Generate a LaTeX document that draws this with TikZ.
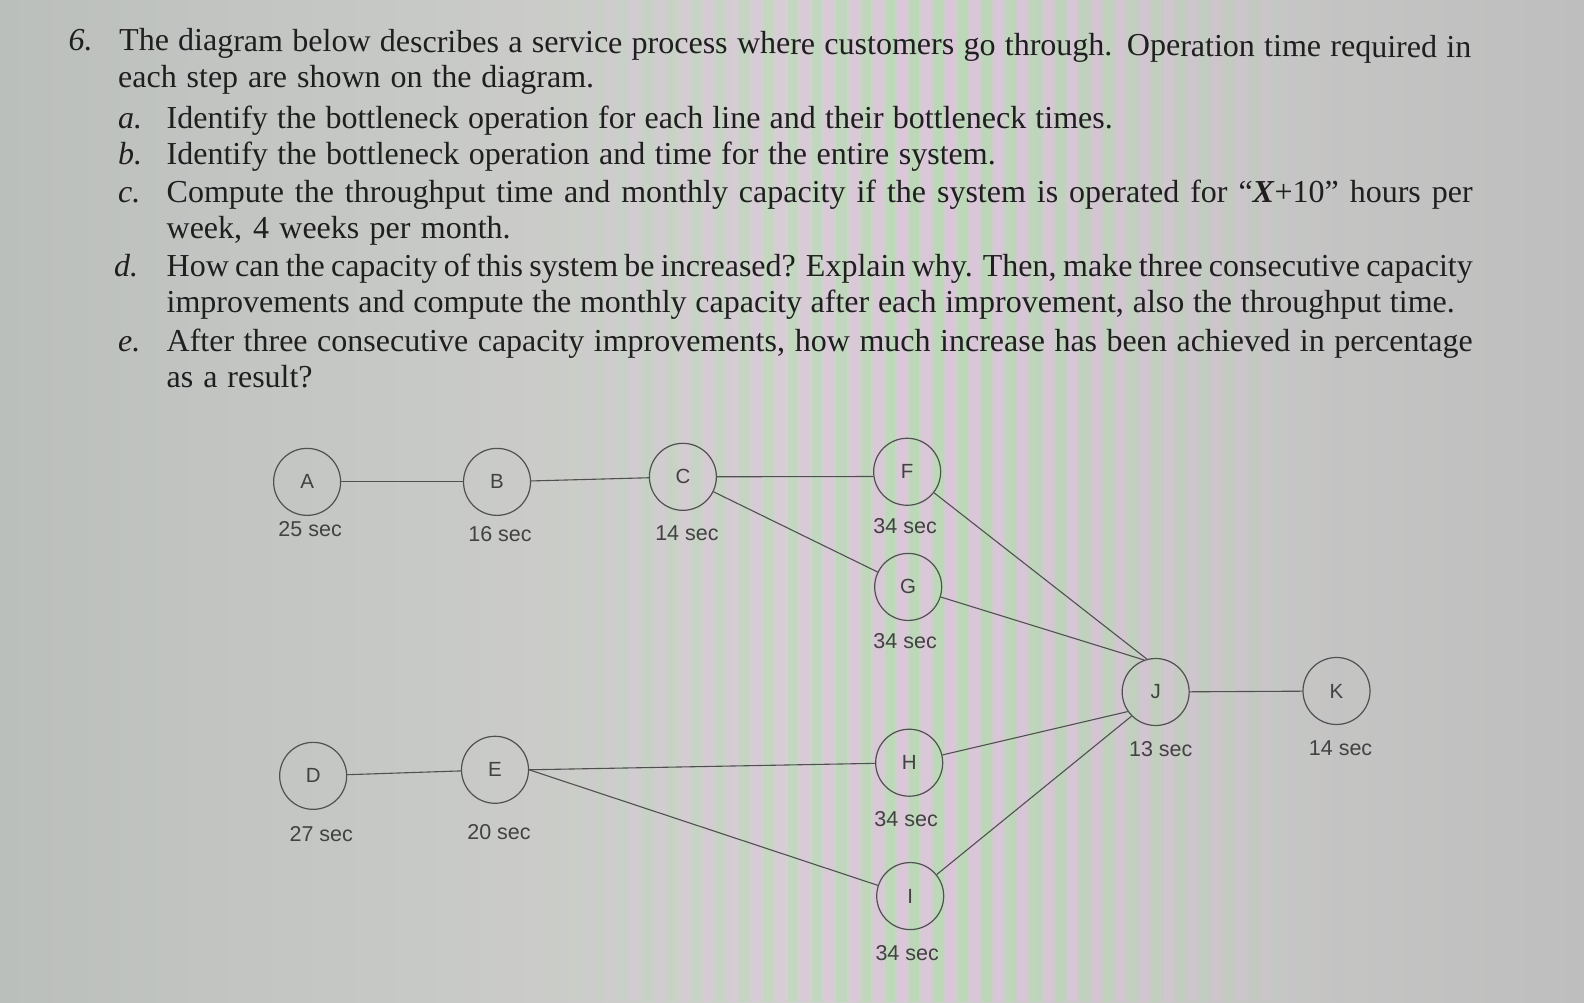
\documentclass[tikz,border=0pt]{standalone}
\usepackage{fontspec}
\setmainfont{Liberation Serif}
\newfontfamily\labfont{Liberation Sans}
\definecolor{txtgray}{HTML}{1F1F1F}
\definecolor{labgray}{HTML}{424242}
\definecolor{linegray}{HTML}{505050}
\definecolor{bgL}{HTML}{BBBFBC}
\definecolor{bgM}{HTML}{D2D2D0}
\definecolor{bgR}{HTML}{BEBEBE}
\definecolor{stripeG}{HTML}{B0E0AA}
\definecolor{stripeP}{HTML}{E4C2E2}
\begin{document}
\begin{tikzpicture}[x=1.0102pt,y=-1.0102pt,
  txt/.style={anchor=base west, inner sep=0pt, outer sep=0pt, text=txtgray, font=\fontsize{32}{36}\selectfont},
  circ/.style={circle, draw=linegray, line width=1.2pt, minimum size=67pt, inner sep=0pt, text=labgray, font=\labfont\fontsize{20.5}{20.5}\selectfont},
  tm/.style={inner sep=0pt, text=labgray, font=\labfont\fontsize{21.5}{21.5}\selectfont},
  conn/.style={draw=linegray, line width=1.1pt}]
\useasboundingbox (0,0) rectangle (1568,992);
% photographed screen background
\shade[left color=bgL, right color=bgR, middle color=bgM] (0,0) rectangle (1568,992);
\foreach \i in {0,...,32}{
  \pgfmathsetmacro{\xx}{540+\i*24}
  \pgfmathsetmacro{\op}{max(0,0.6*(1-abs(\xx-920)/400))}
  \fill[stripeG, fill opacity=\op] (\xx,0) rectangle ++(10,992);
  \fill[stripeP, fill opacity=\op] (\xx+12,0) rectangle ++(10,992);
}
% question text
\node[txt] (n6) at (68,50) {\textit{6.}};
\node[txt,rotate=-0.3] (l1) at (118,50) {\makebox[1352pt][s]{The diagram below describes a service process where customers go through. Operation time required in}};
\node[txt] (l2) at (117,87) {\makebox[476pt][s]{each step are shown on the diagram.}};
\node[txt] (ia) at (117,127) {\textit{a.}};
\node[txt] (la) at (165,127) {\makebox[946pt][s]{Identify the bottleneck operation for each line and their bottleneck times.}};
\node[txt] (ib) at (117,163) {\textit{b.}};
\node[txt] (lb) at (165,163) {\makebox[829pt][s]{Identify the bottleneck operation and time for the entire system.}};
\node[txt] (ic) at (117,200) {\textit{c.}};
\node[txt] (lc) at (165,200) {\makebox[1306pt][s]{Compute the throughput time and monthly capacity if the system is operated for “\textbf{\textit{X}}+10” hours per}};
\node[txt] (lc2) at (165,236) {\makebox[344pt][s]{week, 4 weeks per month.}};
\node[txt] (id) at (113,274) {\textit{d.}};
\node[txt] (ld) at (165,274) {\makebox[1306pt][s]{How can the capacity of this system be increased? Explain why. Then, make three consecutive capacity}};
\node[txt] (ld2) at (165,309) {\makebox[1288pt][s]{improvements and compute the monthly capacity after each improvement, also the throughput time.}};
\node[txt] (ie) at (117,348) {\textit{e.}};
\node[txt] (le) at (165,348) {\makebox[1306pt][s]{After three consecutive capacity improvements, how much increase has been achieved in percentage}};
\node[txt] (le2) at (165,384) {\makebox[146pt][s]{as a result?}};
% process nodes
\node[circ] (A) at (304,477) {A};
\node[circ] (B) at (492,477) {B};
\node[circ] (C) at (676,472) {C};
\node[circ] (F) at (898,467) {F};
\node[circ] (G) at (899,581) {G};
\node[circ] (J) at (1144,685) {J};
\node[circ] (K) at (1323,684) {K};
\node[circ] (D) at (310,768) {D};
\node[circ] (E) at (490,762) {E};
\node[circ] (H) at (900,755) {H};
\node[circ] (I) at (901,887) {I};
% times
\node[tm] (tA) at (307,524) {25 sec};
\node[tm] (tB) at (495,529) {16 sec};
\node[tm] (tC) at (680,528) {14 sec};
\node[tm] (tF) at (896,521) {34 sec};
\node[tm] (tG) at (896,635) {34 sec};
\node[tm] (tJ) at (1149,742) {13 sec};
\node[tm] (tK) at (1327,741) {14 sec};
\node[tm] (tD) at (318,826) {27 sec};
\node[tm] (tE) at (494,824) {20 sec};
\node[tm] (tH) at (897,811) {34 sec};
\node[tm] (tI) at (898,943) {34 sec};
% connectors
\draw[conn] (A) -- (B);
\draw[conn] (B) -- (C);
\draw[conn] (C) -- (F.188);
\draw[conn] (C) -- (G);
\draw[conn] (F) -- (J.105);
\draw[conn] (G) -- (J.110);
\draw[conn] (J) -- (K);
\draw[conn] (D) -- (E);
\draw[conn] (E.east) -- (H);
\draw[conn] (E.east) -- (I);
\draw[conn] (H) -- (J.215);
\draw[conn] (I) -- (J.225);
\end{tikzpicture}
\end{document}
